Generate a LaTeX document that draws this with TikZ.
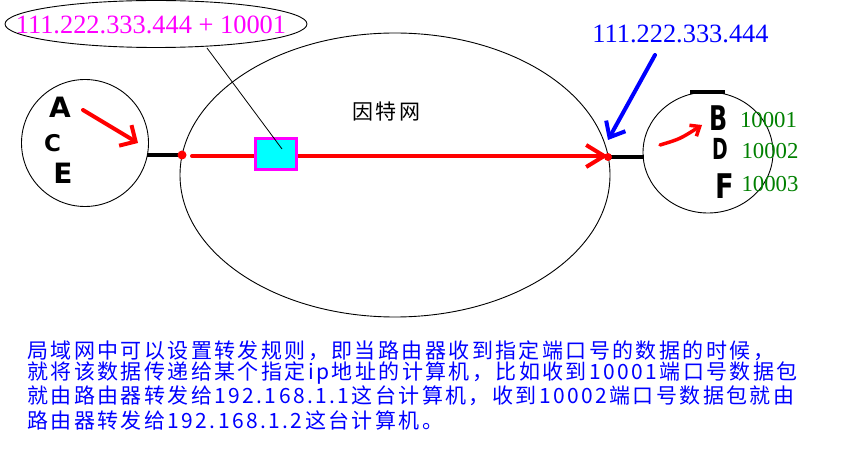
\documentclass[tikz,border=0pt]{standalone}
\usepackage{fontspec}
\usepackage{graphicx}
\setmainfont{Liberation Serif}
\newfontfamily\cjk[LetterSpace=11.5]{Noto Sans CJK SC}
\newfontfamily\handfont{DejaVu Sans}
\usetikzlibrary{arrows.meta,shapes.geometric}
\definecolor{mag}{RGB}{255,0,255}
\definecolor{portgreen}{RGB}{0,128,0}
\definecolor{aqua}{RGB}{0,255,255}
\begin{document}
\begin{tikzpicture}[x=1pt,y=-1pt,
  outline/.style={draw=black, line width=0.9pt},
  wire/.style={draw=black, line width=4pt},
  redstroke/.style={draw=red, line width=4pt, line cap=round},
  bluestroke/.style={draw=blue, line width=4pt, line cap=round},
  dotred/.style={circle, fill=red, inner sep=0pt, minimum size=9pt},
  ipnum/.style={font=\fontsize{26.4}{28}\selectfont, inner sep=0pt},
  port/.style={font=\fontsize{22.8}{24}\selectfont, text=portgreen, inner sep=0pt},
  hostletter/.style={font=\handfont\bfseries\fontsize{28}{30}\selectfont, inner sep=0pt},
  bighost/.style={font=\handfont\bfseries\fontsize{34}{36}\selectfont, inner sep=0pt},
  cjktext/.style={font=\cjk\fontsize{21}{23}\selectfont, inner sep=0pt, anchor=west, text=blue},
]
\useasboundingbox (0,0) rectangle (846,473);

% callout ellipse
\node[ellipse, outline, minimum width=302pt, minimum height=47pt, inner sep=0pt] (callout) at (156,24) {};
\node[ipnum, text=mag] (calltext) at (151,25) {111.222.333.444 + 10001};

% internet
\node[ellipse, outline, minimum width=430pt, minimum height=284pt, inner sep=0pt] (inet) at (395,175) {};
\node[font=\cjk\fontsize{21}{23}\selectfont, inner sep=0pt] (inetlabel) at (386.5,112) {因特网};

% left LAN
\node[circle, outline, minimum size=127pt, inner sep=0pt] (lan) at (85,143) {};
\node[hostletter] (la) at (60,107.5) {A};
\node[hostletter, font=\handfont\bfseries\fontsize{23}{25}\selectfont] (lc) at (52.5,143) {C};
\node[hostletter] (le) at (63,173) {E};

% right LAN
\node[ellipse, outline, minimum width=130pt, minimum height=121pt, inner sep=0pt] (wan) at (708,152.5) {};
\draw[wire] (690,92) -- (725,92);
\node[bighost] (lb) at (719,118) {\scalebox{0.7}[1]{B}};
\node[bighost, font=\handfont\bfseries\fontsize{29}{31}\selectfont] (ld) at (720,149) {\scalebox{0.65}[1]{D}};
\node[bighost] (lf) at (725,186) {\scalebox{0.8}[1]{F}};
\node[port] (p1) at (768.5,120) {10001};
\node[port] (p2) at (770,151) {10002};
\node[port] (p3) at (770,184.5) {10003};

\node[ipnum, text=blue] (pubip) at (680.5,34) {111.222.333.444};

% coordinates
\coordinate (dotL) at (182,155);
\coordinate (dotR) at (608,157);
\coordinate (flowstart) at (192,156);
\coordinate (flowend) at (608,156);
\coordinate (cfoot) at (207,48);
\coordinate (ctip) at (282,149);
\coordinate (ra1) at (83,110);
\coordinate (ra2) at (138,143);
\coordinate (rb1) at (660,145);
\coordinate (rb2) at (702,125);
\coordinate (bl1) at (655,55);
\coordinate (bl2) at (608,140);

% wires
\draw[wire] ([xshift=-1.5pt]lan.east |- dotL) -- (dotL);
\draw[wire] (dotR) -- ([xshift=1pt]wan.west |- dotR);

% red flow
\draw[redstroke, -{Straight Barb[length=18pt,width=22pt]}] (flowstart) -- (flowend);
\node[dotred] (dL) at (dotL) {};
\node[dotred, minimum size=8pt] (dR) at (dotR) {};

% relay box
\node[draw=mag, fill=aqua, line width=3.3pt, minimum width=40.7pt, minimum height=30.7pt, inner sep=0pt] (relay) at (276,154) {};
\draw[outline, line width=0.8pt] (cfoot) -- (ctip);

% arrows
\draw[redstroke, -{Straight Barb[length=12pt,width=24pt]}] (ra1) -- (ra2);
\draw[redstroke, line width=3.5pt, -{Straight Barb[length=8pt,width=13pt]}] (rb1) .. controls (680,139) .. (rb2);
\draw[bluestroke, -{Straight Barb[length=13pt,width=22pt]}] (bl1) -- (bl2);

% note
\node[cjktext] (note1) at (27,351) {局域网中可以设置转发规则，即当路由器收到指定端口号的数据的时候，};
\node[cjktext] (note2) at (27,373) {就将该数据传递给某个指定ip地址的计算机，比如收到10001端口号数据包};
\node[cjktext] (note3) at (27,396) {就由路由器转发给192.168.1.1这台计算机，收到10002端口号数据包就由};
\node[cjktext] (note4) at (27,420) {路由器转发给192.168.1.2这台计算机。};
\end{tikzpicture}
\end{document}
